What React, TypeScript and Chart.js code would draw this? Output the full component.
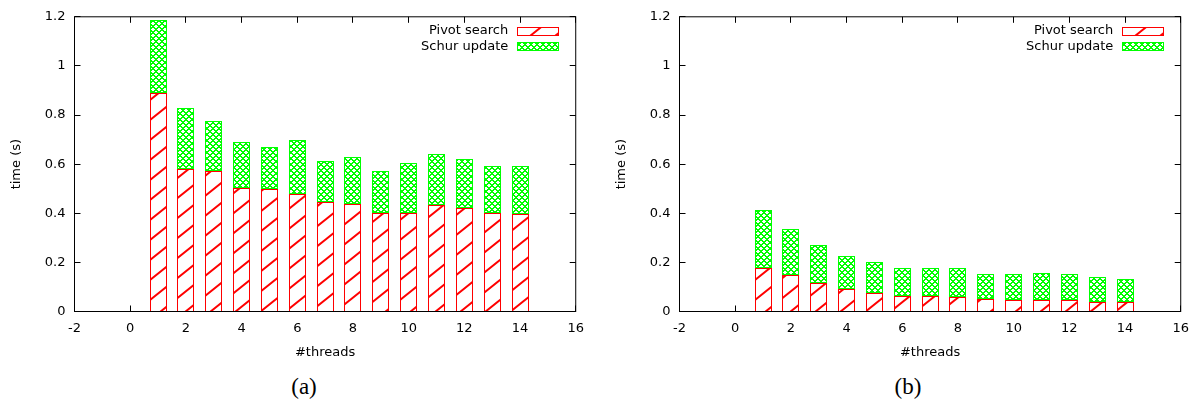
import React, { useEffect, useRef } from 'react';
import { Chart, registerables } from 'chart.js';

Chart.register(...registerables);

const THREADS = [1, 2, 3, 4, 5, 6, 7, 8, 9, 10, 11, 12, 13, 14];

const PIVOT_A = [0.889, 0.579, 0.571, 0.503, 0.498, 0.478, 0.445, 0.438, 0.403, 0.403, 0.432, 0.422, 0.401, 0.397];
const SCHUR_A = [0.298, 0.251, 0.203, 0.188, 0.172, 0.219, 0.167, 0.191, 0.169, 0.202, 0.211, 0.199, 0.192, 0.196];

const PIVOT_B = [0.179, 0.149, 0.115, 0.092, 0.077, 0.065, 0.062, 0.059, 0.051, 0.046, 0.046, 0.047, 0.039, 0.038];
const SCHUR_B = [0.233, 0.186, 0.157, 0.134, 0.126, 0.112, 0.115, 0.118, 0.103, 0.107, 0.111, 0.104, 0.101, 0.094];

const X_TICKS = [-2, 0, 2, 4, 6, 8, 10, 12, 14, 16];
const Y_TICKS = [0, 0.2, 0.4, 0.6, 0.8, 1, 1.2];

const SERIES_LABELS = ['Pivot search', 'Schur update'];
const X_TITLE = '#threads';
const Y_TITLE = 'time (s)';

const FONT = { family: 'DejaVu Sans', size: 13 };

function makeHatch(): CanvasPattern | string {
  const c = document.createElement('canvas');
  c.width = 25;
  c.height = 20;
  const g = c.getContext('2d');
  if (!g) return '#fff';
  g.fillStyle = '#ffffff';
  g.fillRect(0, 0, 25, 20);
  g.strokeStyle = '#ff0000';
  g.lineWidth = 2;
  g.beginPath();
  g.moveTo(0, 20); g.lineTo(25, 0);
  g.moveTo(-25, 20); g.lineTo(25, -20);
  g.moveTo(0, 40); g.lineTo(50, 0);
  g.stroke();
  return g.createPattern(c, 'repeat') || '#fff';
}

function makeCross(): CanvasPattern | string {
  const c = document.createElement('canvas');
  const s = 6;
  c.width = s;
  c.height = s;
  const g = c.getContext('2d');
  if (!g) return '#fff';
  g.fillStyle = '#ffffff';
  g.fillRect(0, 0, s, s);
  g.fillStyle = '#00ff00';
  for (let i = 0; i < s; i++) {
    g.fillRect(i, i, 1, 1);
    g.fillRect((i + 1) % s, i, 1, 1);
    g.fillRect(s - 1 - i, i, 1, 1);
    g.fillRect((2 * s - 2 - i) % s, i, 1, 1);
  }
  return g.createPattern(c, 'repeat') || '#fff';
}

const snapPlugin = {
  id: 'snapbars',
  afterDatasetsUpdate(chart: any) {
    chart.data.datasets.forEach((_: any, di: number) => {
      const meta = chart.getDatasetMeta(di);
      meta.data.forEach((el: any) => {
        const w = Math.round(el.width);
        const left = Math.round(el.x - w / 2);
        el.width = w;
        el.x = left + w / 2;
        el.y = Math.round(el.y);
        el.base = Math.round(el.base);
      });
    });
  },
};

const framePlugin = {
  id: 'gnuframe',
  beforeDatasetsDraw(chart: any) {
    const { ctx, chartArea: a, scales } = chart;
    ctx.save();
    ctx.strokeStyle = '#000';
    ctx.lineWidth = 1;
    ctx.beginPath();
    for (const v of X_TICKS) {
      const x = Math.floor(scales.x.getPixelForValue(v)) + 0.5;
      ctx.moveTo(x, a.bottom); ctx.lineTo(x, a.bottom - 6);
      ctx.moveTo(x, a.top); ctx.lineTo(x, a.top + 6);
    }
    for (const v of Y_TICKS) {
      const y = Math.floor(scales.y.getPixelForValue(v)) + 0.5;
      ctx.moveTo(a.left, y); ctx.lineTo(a.left + 6, y);
      ctx.moveTo(a.right, y); ctx.lineTo(a.right - 6, y);
    }
    ctx.stroke();
    ctx.restore();
  },
  afterDatasetsDraw(chart: any) {
    const { ctx, chartArea: a } = chart;
    ctx.save();
    ctx.strokeStyle = '#000';
    ctx.lineWidth = 1;
    ctx.strokeRect(a.left, a.top, a.right - a.left, a.bottom - a.top);
    // legend (gnuplot style: text then sample, top right inside)
    ctx.font = '13px "DejaVu Sans"';
    ctx.textAlign = 'right';
    ctx.textBaseline = 'middle';
    const rows = [a.top + 14.5, a.top + 30];
    chart.data.datasets.forEach((ds: any, i: number) => {
      const cy = rows[i];
      ctx.fillStyle = '#000';
      ctx.fillText(ds.label, a.right - 67.5, cy - 0.5);
      const bx = Math.floor(a.right - 58) + 0.5;
      const by = Math.floor(cy - 4) + 0.5;
      ctx.fillStyle = ds.backgroundColor;
      ctx.fillRect(bx, by, 41, 8);
      ctx.strokeStyle = ds.borderColor;
      ctx.strokeRect(bx, by, 41, 8);
    });
    ctx.restore();
  },
};

function Panel({ pivot, schur, left, caption, captionX }: { pivot: number[]; schur: number[]; left: number; caption: string; captionX: number }) {
  const ref = useRef<HTMLCanvasElement>(null);
  useEffect(() => {
    if (!ref.current) return;
    const hatch = makeHatch();
    const cross = makeCross();
    const chart = new Chart(ref.current, {
      type: 'bar',
      data: {
        datasets: [
          {
            label: SERIES_LABELS[0],
            data: THREADS.map((t, i) => ({ x: t, y: pivot[i] })),
            backgroundColor: hatch as any,
            borderColor: '#ff0000',
            borderWidth: 1,
            borderSkipped: false,
            inflateAmount: 0,
            categoryPercentage: 1,
            barPercentage: 0.6,
          },
          {
            label: SERIES_LABELS[1],
            data: THREADS.map((t, i) => ({ x: t, y: schur[i] })),
            backgroundColor: cross as any,
            borderColor: '#00ff00',
            borderWidth: 1,
            borderSkipped: false,
            inflateAmount: 0,
            categoryPercentage: 1,
            barPercentage: 0.6,
          },
        ],
      },
      options: {
        responsive: false,
        animation: false,
        devicePixelRatio: 1,
        layout: { padding: { top: 15.5, right: 10.5, bottom: 0, left: 0 } },
        plugins: { legend: { display: false }, tooltip: { enabled: false } },
        scales: {
          x: {
            type: 'linear',
            min: -2,
            max: 16,
            stacked: true,
            offset: false,
            afterBuildTicks: (s: any) => { s.ticks = X_TICKS.map((v) => ({ value: v })); },
            afterFit: (s: any) => { s.height = 50.5; },
            ticks: { font: FONT, color: '#000', padding: 9, maxRotation: 0, autoSkip: false, callback: (v: any) => String(v) },
            grid: { display: false, drawTicks: false },
            border: { display: false },
            title: { display: true, text: X_TITLE, font: FONT, color: '#000', padding: { top: 0, bottom: 2 } },
          },
          y: {
            type: 'linear',
            min: 0,
            max: 1.2,
            stacked: true,
            afterBuildTicks: (s: any) => { s.ticks = Y_TICKS.map((v) => ({ value: v })); },
            afterFit: (s: any) => { s.width = 74.5; },
            ticks: { font: FONT, color: '#000', padding: 9, callback: (v: any) => String(v) },
            grid: { display: false, drawTicks: false },
            border: { display: false },
            title: { display: true, text: Y_TITLE, font: FONT, color: '#000', padding: { top: 9, bottom: 0 } },
          },
        },
      } as any,
      plugins: [snapPlugin, framePlugin],
    });
    return () => chart.destroy();
  }, []);
  return (
    <>
      <canvas ref={ref} width={593} height={362} style={{ position: 'absolute', left, top: 0, width: 593, height: 362 }} />
      <div
        style={{
          position: 'absolute',
          left: captionX,
          top: 387,
          transform: 'translate(-50%, -50%)',
          fontFamily: '"Liberation Serif", serif',
          fontSize: 23,
          lineHeight: '26px',
          color: '#000',
          whiteSpace: 'nowrap',
        }}
      >
        {caption}
      </div>
    </>
  );
}

export default function App() {
  return (
    <div style={{ position: 'absolute', left: 0, top: 0, width: 1198, height: 400, background: '#fff', overflow: 'hidden' }}>
      <Panel pivot={PIVOT_A} schur={SCHUR_A} left={0} caption="(a)" captionX={304} />
      <Panel pivot={PIVOT_B} schur={SCHUR_B} left={605} caption="(b)" captionX={908} />
    </div>
  );
}
